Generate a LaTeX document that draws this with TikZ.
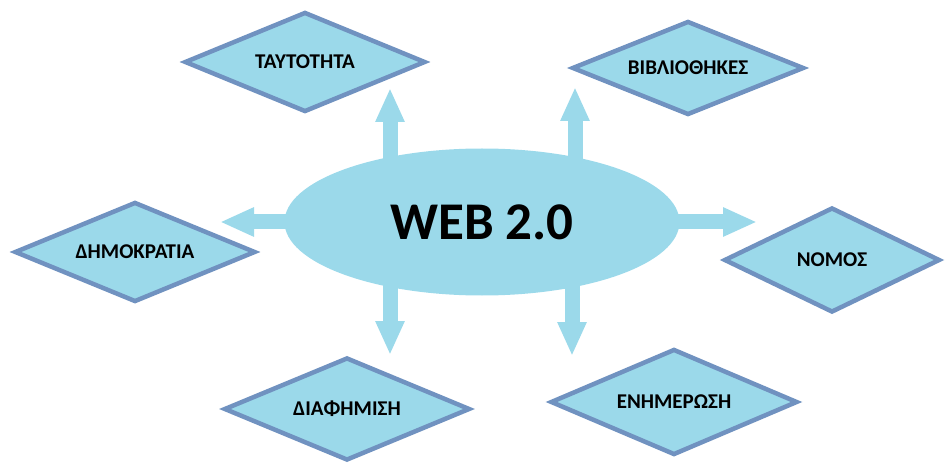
\documentclass[tikz,border=0pt]{standalone}
\usepackage{fontspec}
\setmainfont{Carlito}
\usepackage{xcolor}
\usepackage{tikz}
\usetikzlibrary{arrows.meta,shapes.geometric,backgrounds,positioning}
\definecolor{skyfill}{RGB}{155,217,234}
\definecolor{rimblue}{RGB}{112,146,192}
\tikzset{>=latex}
\tikzset{
  topic/.style={diamond, shape aspect=2.4, fill=skyfill, draw=rimblue,
    line width=4.5pt, inner sep=0pt, font=\fontsize{21}{24}\selectfont\bfseries},
  pointer/.style={draw=skyfill, line width=15pt, -{Triangle[length=34pt,width=27pt]}}
}

\begin{document}
\begin{tikzpicture}[x=1pt,y=1pt]
          \useasboundingbox (0,0) rectangle (945,464);
          \node at (482,242) (web)
          [ellipse, fill=skyfill, minimum width=395pt, minimum height=147pt, inner sep=0pt,
           font=\fontsize{53}{60}\selectfont\bfseries]
          {WEB 2.0};
          \node at (305,402) (taut) [topic, minimum width=241pt, minimum height=100pt] {ΤΑΥΤΟΤΗΤΑ};
          \node at (688,396) (vivl) [topic, minimum width=232pt, minimum height=94pt] {ΒΙΒΛΙΟΘΗΚΕΣ};
          \node at (135,212) (dimo) [topic, minimum width=241pt, minimum height=100pt] {ΔΗΜΟΚΡΑΤΙΑ};
          \node at (832,204) (nomos) [topic, minimum width=216pt, minimum height=105pt] {ΝΟΜΟΣ};
          \node at (347,55) (diaf) [topic, minimum width=246pt, minimum height=103pt] {ΔΙΑΦΗΜΙΣΗ};
          \node at (674,62) (enim) [topic, minimum width=247pt, minimum height=106pt] {ΕΝΗΜΕΡΩΣΗ};
          % arrow ends, just short of the diamonds
          \coordinate (toTaut) at (390,376);
          \coordinate (toVivl) at (575,377);
          \coordinate (toDimo) at (220,242);
          \coordinate (toNomos) at (757,242);
          \coordinate (toDiaf) at (390,109);
          \coordinate (toEnim) at (572,108);
          \begin{scope}[on background layer]
            \draw[pointer] (web.center -| toTaut) -- (toTaut);
            \draw[pointer] (web.center -| toVivl) -- (toVivl);
            \draw[pointer] (web.center) -- (toDimo);
            \draw[pointer] (web.center) -- (toNomos);
            \draw[pointer] (web.center -| toDiaf) -- (toDiaf);
            \draw[pointer] (web.center -| toEnim) -- (toEnim);
          \end{scope}
        \end{tikzpicture}
\end{document}
